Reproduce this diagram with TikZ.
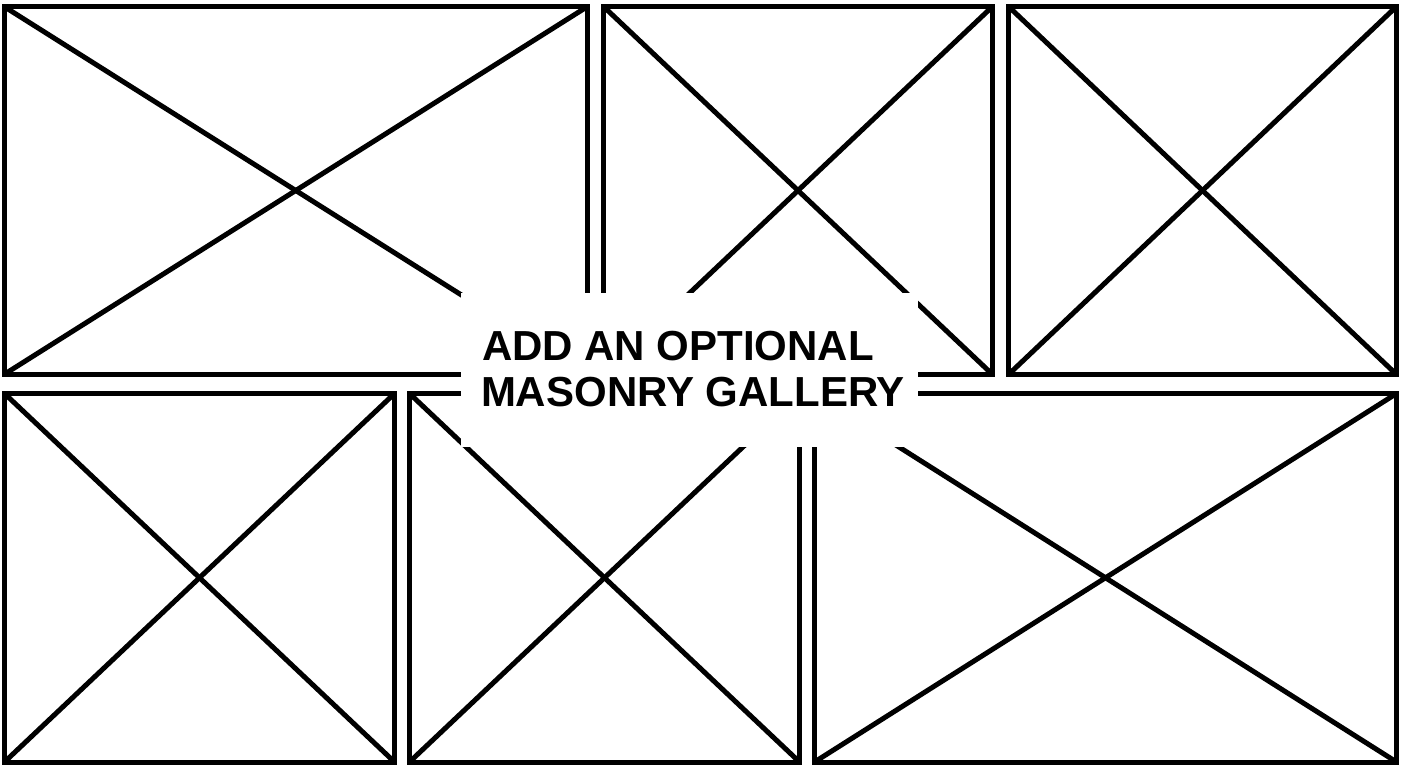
\documentclass[tikz,border=0pt]{standalone}
\usepackage{fontspec}
\setmainfont{Liberation Sans}
\usetikzlibrary{fit}
\begin{document}
\begin{tikzpicture}[x=0.75pt,y=-0.75pt,
  panel/.style={draw=black, line width=3.75pt, inner sep=0pt, outer sep=0pt},
  cross/.style={draw=black, line width=3.75pt, line cap=butt},
  veil/.style={fill=white, draw=none, inner sep=0pt, outer sep=0pt, minimum width=342.75pt, minimum height=115.5pt},
  caption/.style={inner sep=0pt, outer sep=0pt, anchor=base west, font=\bfseries\fontsize{31.5}{35}\selectfont}]
\useasboundingbox (0,0) rectangle (1408,765);
\fill[white] (0,0) rectangle (1408,765);
% panels
\node[panel, fit={(4,6.5) (587.5,374.5)}] (b1) {};
\node[panel, fit={(603.5,6.5) (992.5,374.5)}] (b2) {};
\node[panel, fit={(1008.5,6.5) (1396.5,374.5)}] (b3) {};
\node[panel, fit={(4.5,393.5) (394.5,762)}] (b4) {};
\node[panel, fit={(409.5,393.5) (799.5,762)}] (b5) {};
\node[panel, fit={(814.5,393.5) (1396.5,762)}] (b6) {};
\foreach \b in {b1,b2,b3,b4,b5,b6}{
  \draw[cross] (\b.north west) -- (\b.south east);
  \draw[cross] (\b.south west) -- (\b.north east);
}
% label
\node[veil] (veil) at (689.5,370) {};
\node[caption] (l1) at (482,360) {ADD AN OPTIONAL};
\node[caption] (l2) at (481,406.5) {MASONRY GALLERY};
\end{tikzpicture}
\end{document}
